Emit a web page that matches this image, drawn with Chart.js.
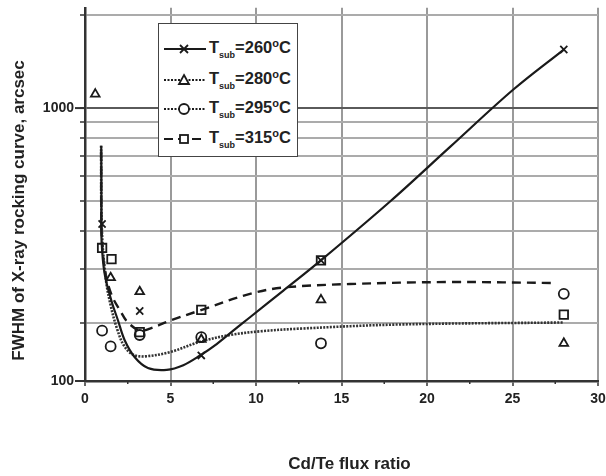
<!DOCTYPE html>
<html>
<head>
<meta charset="utf-8">
<script src="https://cdn.jsdelivr.net/npm/chart.js@4.4.1/dist/chart.umd.min.js"></script>
<style>
  html, body { margin: 0; padding: 0; background: #fff; }
  #wrap { position: relative; width: 606px; height: 476px; }
  #legend {
    position: absolute; left: 158px; top: 23px; width: 140px; height: 134px;
    background: #fff; border: 1.5px solid #444; box-sizing: border-box;
    font-family: "Liberation Sans", Arial, sans-serif; font-weight: bold; color: #222;
  }
  .item { position: absolute; left: 4px; height: 24px; display: flex; align-items: center; white-space: nowrap; }
  .item svg { margin-right: 2px; }
  .lbl { font-size: 16.5px; line-height: 16px; }
  .lbl sub { font-size: 9px; vertical-align: -5px; }
  .lbl sup { font-size: 11px; vertical-align: 6px; font-weight: bold; }
</style>
</head>
<body>
<div id="wrap">
  <canvas id="c" width="606" height="476"></canvas>
  <div id="legend"></div>
</div>
<script>
// ---------------- data ----------------
const seriesNames = ['260', '280', '295', '315'];

// measured points
const x260 = [1.0, 3.2, 6.8, 13.8, 28.0];
const y260 = [420, 219, 157, 320, 1550];
const x280 = [0.6, 1.5, 3.2, 6.8, 13.8, 28.0];
const y280 = [1110, 281, 253, 177, 238, 172];
const x295 = [1.0, 1.5, 3.2, 6.8, 13.8, 28.0];
const y295 = [189, 168, 183, 180, 172, 249];
const x315 = [1.0, 1.55, 3.2, 6.8, 13.8, 28.0];
const y315 = [351, 323, 187, 221, 320, 213];

// fitted curves
const fitX260 = [0.95, 0.96, 0.97, 1.15, 1.54, 1.93, 2.32, 2.91, 3.68, 4.78, 5.75, 6.73, 7.70, 8.67, 9.65, 11.6, 13.74, 17.84, 21.35, 25.05, 28.0];
const fitY260 = [754, 497, 370, 289, 237, 204, 176, 155, 143, 141, 146, 157, 171, 189, 209, 255, 318, 497, 748, 1149, 1550];
const fitX280 = [0.94, 0.99, 1.23, 1.52, 1.87, 2.28, 2.81, 3.51, 4.97, 6.73, 8.48, 10.2, 12.6, 18.4, 28.0];
const fitY280 = [754, 398, 275, 226, 192, 169, 158, 156, 161, 174, 183, 188, 192, 198, 201];
const fitX315 = [0.94, 0.99, 1.23, 1.58, 2.05, 2.51, 3.22, 3.8, 5.0, 6.73, 9.65, 11.58, 15.5, 21.3, 27.6];
const fitY315 = [721, 370, 285, 245, 220, 201, 189, 192, 204, 220, 249, 261, 268, 272, 270];

// axes
const xMin = 0, xMax = 30, xStep = 5;
const xMinorTicks = [2.5, 7.5, 12.5, 17.5, 22.5, 27.5];
const yBottom = 129.7, yTop = 2118;           // visible extent of the log axis
const yTickValues = [yBottom, 200, 300, 400, 500, 600, 700, 800, 900, 1000, 2000];
const yTickLabels = ['100', '', '', '', '', '', '', '', '', '1000', ''];
const yMajor = [yBottom, 1000];

const xTitle = 'Cd/Te flux ratio';
const yTitle = 'FWHM of X-ray rocking curve, arcsec';

// ---------------- helpers ----------------
const pts = (xs, ys) => xs.map((x, i) => ({ x: x, y: ys[i] }));
const INK = '#1a1a1a';
const FONT = '"Liberation Sans", Arial, sans-serif';

const lineDs = (xs, ys, dash, width, color) => ({
  type: 'scatter', data: pts(xs, ys), showLine: true, pointRadius: 0,
  borderColor: color || INK, borderWidth: width, borderDash: dash, tension: 0.35, fill: false, order: 2
});
const markDs = (xs, ys, style, r) => ({
  type: 'scatter', data: pts(xs, ys), showLine: false, pointStyle: style,
  pointRadius: r, pointBorderWidth: 1.8, pointBorderColor: INK,
  pointBackgroundColor: 'rgba(0,0,0,0)', order: 1
});

const extras = {
  id: 'extras',
  afterDraw(chart) {
    const ctx = chart.ctx, xs = chart.scales.x, ys = chart.scales.y, a = chart.chartArea;
    ctx.save();
    ctx.strokeStyle = '#333'; ctx.lineWidth = 1.5;
    xMinorTicks.forEach(v => {
      const px = xs.getPixelForValue(v);
      ctx.beginPath(); ctx.moveTo(px, a.bottom); ctx.lineTo(px, a.bottom + 3); ctx.stroke();
    });
    ctx.lineWidth = 2;
    yMajor.forEach(v => {
      const py = ys.getPixelForValue(v);
      ctx.beginPath(); ctx.moveTo(a.left - 10, py); ctx.lineTo(a.left, py); ctx.stroke();
    });
    ctx.fillStyle = '#222';
    ctx.font = 'bold 17px ' + FONT;
    ctx.textAlign = 'center'; ctx.textBaseline = 'middle';
    ctx.fillText(xTitle, (a.left + a.right) / 2 + 8, 464);
    ctx.translate(19, a.top + (a.bottom - a.top) * 0.543);
    ctx.rotate(-Math.PI / 2);
    ctx.fillText(yTitle, 0, 0);
    ctx.restore();
  }
};

Chart.defaults.font.family = FONT;
Chart.defaults.font.weight = 'bold';
Chart.defaults.color = '#222';

new Chart(document.getElementById('c'), {
  type: 'scatter',
  data: {
    datasets: [
      lineDs(fitX260, fitY260, [], 2.2),
      lineDs(fitX280, fitY280, [2, 1.3], 2.6, '#333'),
      lineDs(fitX315, fitY315, [9, 6], 2.4),
      markDs(x260, y260, 'crossRot', 5),
      markDs(x280, y280, 'triangle', 5),
      markDs(x295, y295, 'circle', 5),
      markDs(x315, y315, 'rect', 6)
    ]
  },
  options: {
    responsive: false, animation: false, devicePixelRatio: 1,
    layout: { padding: { top: 5, right: 8, left: 0, bottom: 0 } },
    plugins: { legend: { display: false }, tooltip: { enabled: false } },
    scales: {
      x: {
        type: 'linear', min: xMin, max: xMax,
        ticks: { stepSize: xStep, padding: 5, font: { size: 14, weight: 'bold' }, color: '#222' },
        grid: { color: '#9a9a9a', lineWidth: 2, tickLength: 5, tickColor: '#333', tickWidth: 1.5 },
        border: { display: true, color: '#333', width: 2.5 },
        afterFit(s) { s.height = 95; s.paddingLeft = 0; s.paddingRight = 0; }
      },
      y: {
        type: 'logarithmic', min: yBottom, max: yTop,
        afterBuildTicks(s) { s.ticks = yTickValues.map(v => ({ value: v })); },
        ticks: {
          autoSkip: false, padding: 6, font: { size: 14, weight: 'bold' }, color: '#222',
          callback: (v) => { const i = yTickValues.indexOf(v); return i >= 0 ? yTickLabels[i] : ''; }
        },
        grid: {
          color: c => (c.tick && c.tick.value === 1000) ? '#5a5a5a' : '#ababab',
          lineWidth: 2, tickLength: 5, tickColor: '#333', tickWidth: 1.5
        },
        border: { display: true, color: '#333', width: 2.5 },
        afterFit(s) { s.width = 85; s.paddingTop = 0; s.paddingBottom = 0; }
      }
    }
  },
  plugins: [extras]
});

// ---------------- HTML legend (line + marker samples) ----------------
const legendStyles = [
  { dash: '', marker: 'x' },
  { dash: '2 1.5', marker: 'tri' },
  { dash: '2 1.5', marker: 'circ' },
  { dash: '9 5', marker: 'sq' }
];
const legendTops = [13, 44, 73, 103];
const markerSvg = m => {
  if (m === 'x') return '<path d="M17 -4 L25 4 M17 4 L25 -4" stroke="#1a1a1a" stroke-width="1.8"/>';
  if (m === 'tri') return '<path d="M21 -5 L26 4 L16 4 Z" fill="white" stroke="#1a1a1a" stroke-width="1.8"/>';
  if (m === 'circ') return '<circle cx="21" cy="0" r="5" fill="white" stroke="#1a1a1a" stroke-width="1.8"/>';
  return '<rect x="17" y="-4" width="8" height="8" fill="white" stroke="#1a1a1a" stroke-width="1.8"/>';
};
const leg = document.getElementById('legend');
seriesNames.forEach((n, i) => {
  const st = legendStyles[i];
  const d = document.createElement('div');
  d.className = 'item';
  d.style.top = legendTops[i] + 'px';
  d.innerHTML =
    '<svg width="44" height="20" viewBox="0 -10 44 20"><line x1="1" y1="0" x2="43" y2="0" stroke="#1a1a1a" stroke-width="2.2" stroke-dasharray="' +
    st.dash + '"/>' + markerSvg(st.marker) + '</svg>' +
    '<span class="lbl">T<sub>sub</sub>=' + n + '<sup>o</sup>C</span>';
  leg.appendChild(d);
});
</script>
</body>
</html>
